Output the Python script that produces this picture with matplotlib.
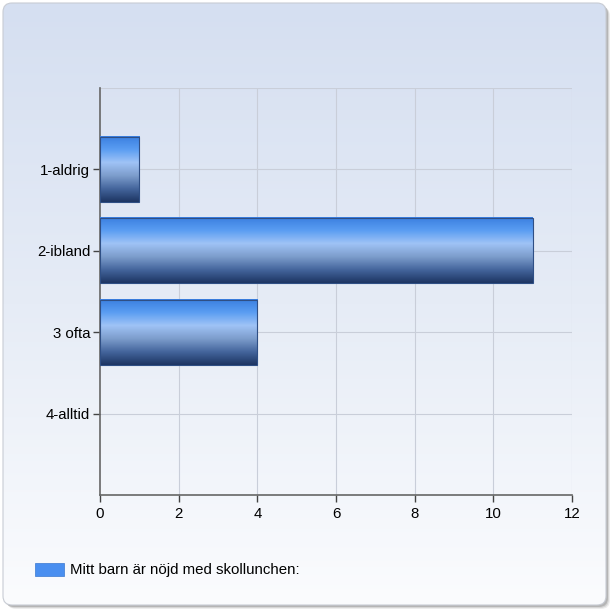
import numpy as np
import matplotlib
matplotlib.use("Agg")
import matplotlib.pyplot as plt
from matplotlib.patches import FancyBboxPatch, Rectangle
from matplotlib.colors import LinearSegmentedColormap

categories = ["1-aldrig", "2-ibland", "3 ofta", "4-alltid"]
values = [1, 11, 4, 0]
x_ticks = [0, 2, 4, 6, 8, 10, 12]
legend_label = "Mitt barn är nöjd med skollunchen:"

plt.rcParams["font.family"] = ["Liberation Sans", "DejaVu Sans"]
fs = 10.8

W = H = 612
fig = plt.figure(figsize=(6.12, 6.12), dpi=100)
fig.patch.set_facecolor("white")

# background panel with shadow and vertical gradient
bg = fig.add_axes([0, 0, 1, 1], zorder=-10)
bg.set_xlim(0, W)
bg.set_ylim(H, 0)
bg.axis("off")
for off, a in [(4, 0.10), (3, 0.15), (2, 0.25)]:
    bg.add_patch(FancyBboxPatch((3 + off, 3 + off), 603, 602,
                                boxstyle="round,pad=0,rounding_size=9",
                                fc="#555555", ec="none", alpha=a, zorder=-5))
panel = FancyBboxPatch((3, 3), 603, 602, boxstyle="round,pad=0,rounding_size=9",
                       fc="none", ec="#c8ccd4", lw=0.8, zorder=2)
bg.add_patch(panel)
bg_cmap = LinearSegmentedColormap.from_list("bg", ["#d5dff1", "#e6ecf6", "#fbfcfe"])
grad = np.linspace(0, 1, 256).reshape(-1, 1)
im = bg.imshow(grad, extent=(3, 606, 605, 3), aspect="auto", cmap=bg_cmap, zorder=0)
im.set_clip_path(panel)
bg.set_xlim(0, W)
bg.set_ylim(H, 0)

# chart
ax = fig.add_axes([100 / W, 117 / H, 472 / W, 407 / H])
ax.patch.set_alpha(0)

bar_cmap = LinearSegmentedColormap.from_list(
    "bar", ["#3a7fe0", "#5a9df2", "#9fc3f6", "#7d9dcc", "#44659c", "#1d3562"])
bar_h = 0.8
for i, v in enumerate(values):
    y = i + 1
    if v <= 0:
        continue
    ax.imshow(grad, extent=(0, v, y - bar_h / 2, y + bar_h / 2), origin="lower",
              aspect="auto", cmap=bar_cmap, zorder=3)
    ax.add_patch(Rectangle((0, y - bar_h / 2), v, bar_h, fc="none",
                           ec="#2f4f85", lw=0.8, zorder=4))
ax.set_xlim(0, 12)
ax.set_ylim(5, 0)

ax.set_xticks(x_ticks)
ax.set_yticks(range(1, len(categories) + 1))
ax.set_yticklabels(categories)
for gx in x_ticks[1:]:
    ax.axvline(gx, color="#c9ced9", lw=0.8, zorder=1)
for gy in range(0, len(categories) + 1):
    ax.axhline(gy, color="#c9ced9", lw=0.8, zorder=1)

for s in ["top", "right"]:
    ax.spines[s].set_visible(False)
for s in ["left", "bottom"]:
    ax.spines[s].set_color("#666666")
    ax.spines[s].set_linewidth(1.2)
ax.tick_params(axis="both", colors="#444444", length=5, width=1, labelcolor="black",
               labelsize=fs)
ax.tick_params(axis="y", pad=2)
ax.tick_params(axis="x", pad=4)

# legend
bg.add_patch(Rectangle((35, 563), 29, 13, fc="#4a8ff0", ec="#3a78d0", lw=0.5, zorder=3))
bg.text(70, 570, legend_label, fontsize=fs, va="center", ha="left", zorder=3)

fig.savefig("out.png", dpi=100)
